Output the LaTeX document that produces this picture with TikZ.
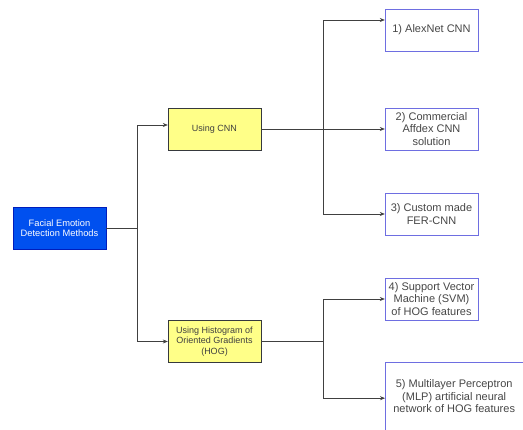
\documentclass[tikz,border=0pt]{standalone}
\usepackage{fontspec}
\setmainfont{Liberation Sans}
\usetikzlibrary{arrows.meta, positioning, calc}
\definecolor{rootblue}{RGB}{0,80,239}
\definecolor{rootedge}{RGB}{0,29,188}
\definecolor{usefill}{RGB}{255,255,136}
\definecolor{useedge}{RGB}{54,57,61}
\definecolor{methodedge}{RGB}{110,110,225}
\definecolor{methodtext}{RGB}{70,70,70}
\tikzset{
    rootbox/.style={rectangle, draw=rootedge, fill=rootblue, text=white, minimum width=93pt, minimum height=42pt, align=center, font=\fontsize{9.3}{10}\selectfont},
    usebox/.style={rectangle, draw=useedge, fill=usefill, text=black!75, minimum width=93pt, minimum height=42pt, inner sep=1pt, align=center, font=\fontsize{9}{10.5}\selectfont},
    methodbox/.style={rectangle, draw=methodedge, text=methodtext, minimum width=93pt, minimum height=42pt, inner sep=1pt, align=center, font=\fontsize{11}{12.5}\selectfont},
}

\begin{document}
\begin{tikzpicture}[
    x=1pt, y=-1pt,
    link/.style={draw=black!75, line width=0.6pt},
    arrow/.style={link, -{Stealth[length=5pt, width=4pt]}},
]
\clip (0,0) rectangle (523,430);

% Root
\node[rootbox] (root) at (59.5,228) {Facial Emotion\\Detection Methods};

% Middle column
\node[usebox] (cnn) at (214.5,129) {Using CNN};
\node[usebox] (hog) at (214.5,341.5) {Using Histogram of\\Oriented Gradients\\(HOG)};

% Right column: methods (last box runs off the page)
\node[methodbox] (alex) at (431.5,30) {1) AlexNet CNN};
\node[methodbox] (affdex) at (431.5,129) {2) Commercial\\Affdex CNN\\solution};
\node[methodbox] (fer) at (431.5,214) {3) Custom made\\FER-CNN};
\node[methodbox] (svm) at (431.5,299) {4) Support Vector\\Machine (SVM)\\of HOG features};
\node[methodbox, minimum width=138pt, minimum height=68pt, anchor=north west] (mlp) at (385,362) {5) Multilayer Perceptron\\(MLP) artificial neural\\network of HOG features};

% Arrows
\coordinate (split) at (137,228);
\draw[link] (root.east) -- (split);
\draw[arrow] (split) |- ($(cnn.west)+(0,-4)$);
\draw[arrow] (split) |- (hog.west);

\coordinate (cnnsplit) at (323,129);
\draw[link] (cnn.east) -- (cnnsplit);
\draw[arrow] (cnnsplit) |- ($(alex.west)+(0,-10)$);
\draw[arrow] (cnnsplit) |- (affdex.west);
\draw[arrow] (cnnsplit) |- (fer.west);

\coordinate (hogsplit) at (323,341.5);
\draw[link] (hog.east) -- (hogsplit);
\draw[arrow] (hogsplit) |- (svm.west);
\draw[arrow] (hogsplit) |- ($(mlp.west)+(0,2)$);

\end{tikzpicture}
\end{document}
